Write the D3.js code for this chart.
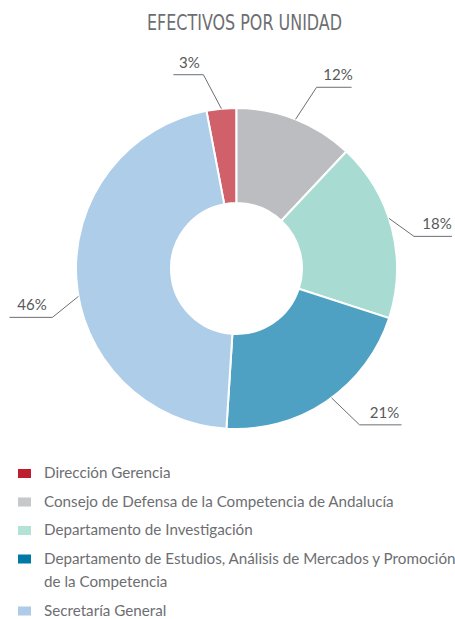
<!DOCTYPE html>
<html>
<head>
<meta charset="utf-8">
<script src="https://cdn.jsdelivr.net/npm/d3@7"></script>
<style>
  body { margin: 0; background: #fff; }
  svg { display: block; }
</style>
</head>
<body>
<script>
var width = 455;
var height = 619;

// data
var title = "EFECTIVOS POR UNIDAD";
var categories = [
  "Dirección Gerencia",
  "Consejo de Defensa de la Competencia de Andalucía",
  "Departamento de Investigación",
  "Departamento de Estudios, Análisis de Mercados y Promoción de la Competencia",
  "Secretaría General"
];
var shares = [3, 12, 18, 21, 46];

// colours: the slices are the lighter tints, the legend keys the solid ones
var sliceColors = ["#d0606a", "#bcbdc0", "#a8dcd3", "#4fa1c4", "#aecde9"];
var keyColors = ["#be1e2d", "#c7c8ca", "#b3e2d7", "#0079a6", "#aecbea"];

// label leader layout: angle shift (deg), elbow offset, run length
var labelLayout = [
  { shift: 0, dx: -18, dy: -34, run: -30 },
  { shift: 0, dx: 21, dy: -32, run: 35 },
  { shift: -3.8, dx: 25, dy: 18, run: 38 },
  { shift: -2.1, dx: 28, dy: 27, run: 42 },
  { shift: -6.4, dx: -26, dy: 21, run: -43 }
];

var cx = 236.5, cy = 268.5;
var outerR = 160.5, innerR = 65.5;

var svg = d3.select("body").append("svg")
  .attr("width", width)
  .attr("height", height);

svg.append("text")
  .attr("x", 244.5)
  .attr("y", 30)
  .attr("text-anchor", "middle")
  .attr("font-family", "'Liberation Sans Narrow', 'DejaVu Sans Condensed', sans-serif")
  .attr("font-size", 21)
  .attr("fill", "#6d6e71")
  .attr("textLength", 195)
  .attr("lengthAdjust", "spacingAndGlyphs")
  .text(title);

var startA = -2 * Math.PI * shares[0] / 100;
var pie = d3.pie().sort(null).value(function (d) { return d; })
  .startAngle(startA).endAngle(startA + 2 * Math.PI);
var arcs = pie(shares);

var arc = d3.arc().innerRadius(innerR).outerRadius(outerR);

var g = svg.append("g").attr("transform", "translate(" + cx + "," + cy + ")");

g.selectAll("path.slice")
  .data(arcs)
  .enter()
  .append("path")
  .attr("class", "slice")
  .attr("d", arc)
  .attr("fill", function (d, i) { return sliceColors[i]; })
  .attr("stroke", "#fff")
  .attr("stroke-width", 2);

// leader lines + percentages
var labels = g.selectAll("g.lab")
  .data(arcs)
  .enter()
  .append("g")
  .attr("class", "lab");

labels.each(function (d, i) {
  var L = labelLayout[i];
  var a = (d.startAngle + d.endAngle) / 2 + L.shift * Math.PI / 180;
  var x0 = Math.sin(a) * outerR, y0 = -Math.cos(a) * outerR;
  var x1 = x0 + L.dx, y1 = y0 + L.dy;
  var x2 = x1 + L.run;
  d3.select(this).append("path")
    .attr("d", d3.line()([[x0, y0], [x1, y1], [x2, y1]]))
    .attr("fill", "none")
    .attr("stroke", "#6d6e71")
    .attr("stroke-width", 1);
  d3.select(this).append("text")
    .attr("x", (x1 + x2) / 2 + (L.run > 0 ? 4 : 1))
    .attr("y", y1 - 7)
    .attr("text-anchor", "middle")
    .attr("font-family", "Lato, sans-serif")
    .attr("font-size", 15)
    .attr("fill", "#58595b")
    .text(shares[i] + "%");
});

// legend
var legend = svg.append("g").attr("transform", "translate(18,0)");
var y = 478;
categories.forEach(function (name, i) {
  var row = legend.append("g");
  row.append("rect")
    .attr("x", 0)
    .attr("y", y - 9)
    .attr("width", 13)
    .attr("height", 9)
    .attr("fill", keyColors[i]);
  var t = row.append("text")
    .attr("x", 26)
    .attr("y", y)
    .attr("font-family", "Lato, sans-serif")
    .attr("font-size", 15.2)
    .attr("fill", "#6d6e71");
  // wrap words to the page width
  var words = name.split(" ");
  var line = [];
  var tspan = t.append("tspan").attr("x", 26).attr("y", y);
  words.forEach(function (w) {
    line.push(w);
    tspan.text(line.join(" "));
    if (tspan.node().getComputedTextLength() > 416 && line.length > 1) {
      line.pop();
      tspan.text(line.join(" "));
      line = [w];
      y += 23.5;
      tspan = t.append("tspan").attr("x", 26).attr("y", y).text(w);
    }
  });
  y += 28.5;
});
</script>
</body>
</html>
